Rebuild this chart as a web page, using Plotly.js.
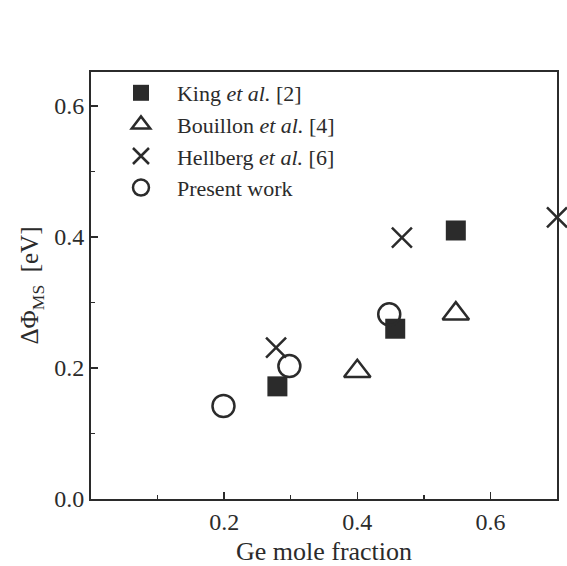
<!DOCTYPE html>
<html><head><meta charset="utf-8">
<script src="https://cdn.plot.ly/plotly-3.0.1.min.js"></script>
<style>html,body{margin:0;padding:0;background:#fff;}</style>
</head><body>
<div id="chart" style="width:567px;height:566px;"></div>
<script>
const kingX = [0.28, 0.457, 0.548];
const kingY = [0.172, 0.26, 0.41];
const bouillonX = [0.40, 0.548];
const bouillonY = [0.195, 0.283];
const hellbergX = [0.278, 0.467, 0.70];
const hellbergY = [0.231, 0.399, 0.43];
const presentX = [0.199, 0.298, 0.448];
const presentY = [0.142, 0.203, 0.282];
const names = ['King <i>et al.</i> [2]', 'Bouillon <i>et al.</i> [4]', 'Hellberg <i>et al.</i> [6]', 'Present work'];

const ink = '#2b2b2b';
const traces = [
  {x: kingX, y: kingY, name: names[0], mode: 'markers', type: 'scatter',
   marker: {symbol: 'square', size: 20, color: ink, line: {width: 0}}},
  {x: bouillonX, y: bouillonY, name: names[1], mode: 'markers', type: 'scatter',
   marker: {symbol: 'triangle-up-open', size: 23, color: ink, line: {width: 2.5, color: ink}}},
  {x: hellbergX, y: hellbergY, name: names[2], mode: 'markers', type: 'scatter', cliponaxis: false,
   marker: {symbol: 'x-thin-open', size: 20, color: ink, line: {width: 2.5, color: ink}}},
  {x: presentX, y: presentY, name: names[3], mode: 'markers', type: 'scatter',
   marker: {symbol: 'circle-open', size: 22, color: ink, line: {width: 2.5, color: ink}}}
];

const layout = {
  width: 567, height: 566,
  margin: {l: 91, r: 10, t: 72, b: 67},
  paper_bgcolor: '#fff', plot_bgcolor: '#fff',
  font: {family: '"Liberation Serif", "Times New Roman", serif', color: ink, size: 24},
  showlegend: true,
  legend: {x: 0.03, y: 1.0, xanchor: 'left', yanchor: 'top', bgcolor: 'rgba(0,0,0,0)',
           font: {size: 22, color: ink}, itemwidth: 62, tracegroupgap: 0},
  xaxis: {range: [0, 0.7], tickvals: [0.2, 0.4, 0.6], ticktext: ['0.2','0.4','0.6'],
          ticks: 'inside', ticklen: 7, tickwidth: 1.5, tickcolor: ink, tickfont: {size: 24},
          minor: {tickvals: [0.1, 0.3, 0.5], ticks: 'inside', ticklen: 4, tickcolor: ink},
          showgrid: false, zeroline: false, showline: true, linecolor: ink, linewidth: 2, mirror: true,
          title: {text: 'Ge mole fraction', font: {size: 26}, standoff: 9}},
  yaxis: {range: [0, 0.652], tickvals: [0, 0.2, 0.4, 0.6], ticktext: ['0.0','0.2','0.4','0.6'],
          ticks: 'inside', ticklen: 7, tickwidth: 1.5, tickcolor: ink, tickfont: {size: 24},
          minor: {tickvals: [0.1, 0.3, 0.5], ticks: 'inside', ticklen: 4, tickcolor: ink},
          showgrid: false, zeroline: false, showline: true, linecolor: ink, linewidth: 2, mirror: true,
          title: {text: 'ΔΦ<sub>MS</sub>  [eV]', font: {size: 25}, standoff: 8}}
};
Plotly.newPlot('chart', traces, layout, {displayModeBar: false, staticPlot: true});
</script>
</body></html>
